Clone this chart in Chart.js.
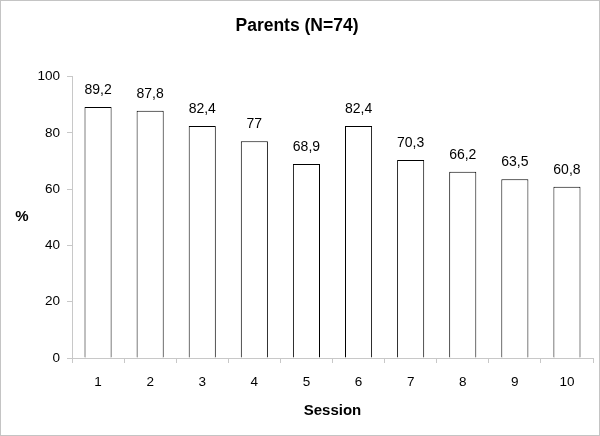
<!DOCTYPE html>
<html>
<head>
<meta charset="utf-8">
<script src="https://cdn.jsdelivr.net/npm/chart.js@4/dist/chart.umd.min.js"></script>
<style>
  html, body { margin: 0; padding: 0; background: #fff; }
  #frame { width: 600px; height: 436px; box-sizing: border-box; border: 1px solid #c4c4c4; }
  canvas { display: block; }
</style>
</head>
<body>
<div id="frame"><canvas id="parents-chart" width="598" height="434"></canvas></div>
<script>
const sessions = ["1", "2", "3", "4", "5", "6", "7", "8", "9", "10"];
const percentages = [89.2, 87.8, 82.4, 77, 68.9, 82.4, 70.3, 66.2, 63.5, 60.8];
const chartTitle = "Parents (N=74)";
const xTitle = "Session";
const yTitle = "%";

const fontFamily = "'Liberation Sans', Arial, sans-serif";
const axisGrey = "#c8c8c8";

// comma decimals like the original
const fmt = v => String(v).replace(".", ",");

const valueLabels = {
  id: "valueLabels",
  afterDatasetsDraw(chart) {
    const { ctx, chartArea } = chart;
    const meta = chart.getDatasetMeta(0);
    ctx.save();
    ctx.fillStyle = "#000";
    ctx.textAlign = "center";
    ctx.textBaseline = "middle";
    ctx.font = "14px " + fontFamily;
    meta.data.forEach((bar, i) => {
      ctx.fillText(fmt(percentages[i]), bar.x, bar.y - 17);
    });
    // y title, kept horizontal like the original
    const yScale = chart.scales.y;
    ctx.font = "bold 15px " + fontFamily;
    ctx.fillText(yTitle, yScale.left + 21, (chartArea.top + chartArea.bottom) / 2);
    ctx.restore();
  }
};

new Chart("parents-chart", {
  type: "bar",
  data: {
    labels: sessions,
    datasets: [
      {
        label: "Parents",
        data: percentages,
        backgroundColor: "#fff",
        borderColor: "#000",
        borderWidth: 1,
        categoryPercentage: 1,
        barPercentage: 0.52
      }
    ]
  },
  options: {
    responsive: false,
    animation: false,
    layout: { padding: { left: 0, right: 6, top: 0, bottom: 0 } },
    plugins: {
      legend: { display: false },
      tooltip: { enabled: false },
      title: {
        display: true,
        text: chartTitle,
        color: "#000",
        font: { family: fontFamily, size: 17.5, weight: "bold" },
        padding: { top: 14.5, bottom: 40 }
      }
    },
    scales: {
      x: {
        afterFit(scale) { scale.height = 77; },
        grid: {
          display: true,
          drawOnChartArea: false,
          drawTicks: true,
          tickLength: 5,
          color: axisGrey,
          offset: true
        },
        border: { display: true, color: axisGrey },
        ticks: {
          color: "#000",
          padding: 11,
          maxRotation: 0,
          font: { family: fontFamily, size: 13.5 }
        },
        title: {
          display: true,
          text: xTitle,
          color: "#000",
          font: { family: fontFamily, size: 15, weight: "bold" },
          padding: { top: 10, bottom: 15 }
        }
      },
      y: {
        min: 0,
        max: 100,
        afterFit(scale) { scale.width = 71; },
        grid: {
          display: true,
          drawOnChartArea: false,
          drawTicks: true,
          tickLength: 5,
          color: axisGrey
        },
        border: { display: true, color: axisGrey },
        ticks: {
          stepSize: 20,
          color: "#000",
          padding: 7,
          font: { family: fontFamily, size: 13.5 }
        },
        title: { display: false }
      }
    }
  },
  plugins: [valueLabels]
});
</script>
</body>
</html>
